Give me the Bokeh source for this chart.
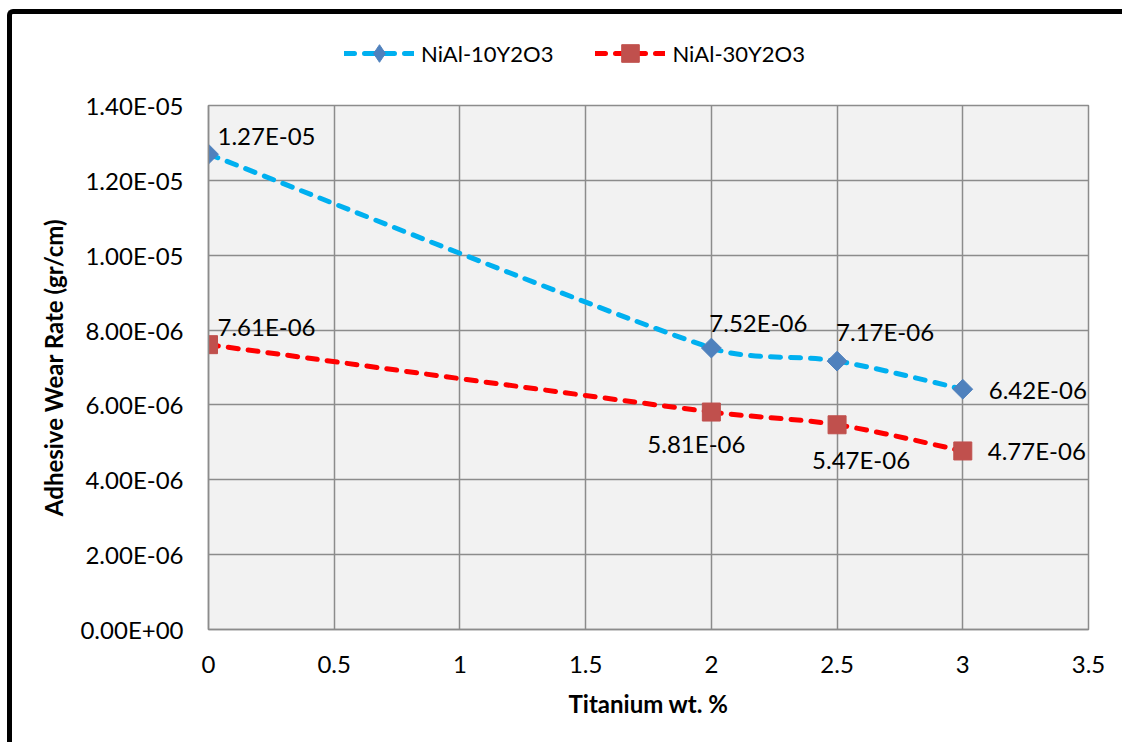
import numpy as np
from bokeh.plotting import figure
from bokeh.layouts import column
from bokeh.models import (ColumnDataSource, Range1d, FixedTicker, CustomJSTickFormatter,
                          Legend, LegendItem, LabelSet)
from bokeh.core.properties import value
from bokeh.embed import file_html
from bokeh.resources import INLINE

# ---------------- data ----------------
titanium = [0, 2, 2.5, 3]
wear_10 = [1.27e-05, 7.52e-06, 7.17e-06, 6.42e-06]
wear_30 = [7.61e-06, 5.81e-06, 5.47e-06, 4.77e-06]
series_names = ["NiAl-10Y2O3", "NiAl-30Y2O3"]
x_ticks = [0, 0.5, 1, 1.5, 2, 2.5, 3, 3.5]
y_ticks = [0, 2e-06, 4e-06, 6e-06, 8e-06, 1e-05, 1.2e-05, 1.4e-05]
x_title = "Titanium wt. %"
y_title = "Adhesive Wear Rate (gr/cm)"

# ---------------- style ----------------
FONT = "Lato"
FS = "24px"
FRAME_W, FRAME_H = 880, 524
X_MAX, Y_MAX = 3.5, 1.4e-05
BLUE_LINE, BLUE_MARK = "#00B0F0", "#4F81BD"
RED_LINE, RED_MARK = "#FF0000", "#C0504D"
GRID = "#8C8C8C"
DASH = "10 10"
LW = 5

# label offsets in pixels (left aligned text), per point
blue_dx = [9, -2, -1, 26]
blue_dy = [19, 26, 30, 0]
red_dx = [9, -64, -25, 25]
red_dy = [18, -31, -35, 0]


def smooth_segments(xs, ys):
    """Excel-like smoothed line: one cubic Bezier per segment (Catmull-Rom tangents, clamped arms)."""
    sx = FRAME_W / X_MAX
    sy = FRAME_H / Y_MAX
    P = np.column_stack([np.asarray(xs, float) * sx, np.asarray(ys, float) * sy])
    n = len(P)
    tang = [(P[min(i + 1, n - 1)] - P[max(i - 1, 0)]) / 6.0 for i in range(n)]
    out = {k: [] for k in ("x0", "y0", "x1", "y1", "cx0", "cy0", "cx1", "cy1")}
    for i in range(n - 1):
        L = np.linalg.norm(P[i + 1] - P[i])

        def clamp(t):
            l = np.linalg.norm(t)
            m = L / 3.0
            return t * (m / l) if l > m else t

        c0 = P[i] + clamp(tang[i])
        c1 = P[i + 1] - clamp(tang[i + 1])
        out["x0"].append(P[i][0] / sx); out["y0"].append(P[i][1] / sy)
        out["x1"].append(P[i + 1][0] / sx); out["y1"].append(P[i + 1][1] / sy)
        out["cx0"].append(c0[0] / sx); out["cy0"].append(c0[1] / sy)
        out["cx1"].append(c1[0] / sx); out["cy1"].append(c1[1] / sy)
    return ColumnDataSource(out)


# ================= main chart =================
p = figure(frame_width=FRAME_W, frame_height=FRAME_H,
           x_range=Range1d(0, X_MAX), y_range=Range1d(0, Y_MAX),
           output_backend="svg", toolbar_location=None,
           min_border_left=196, min_border_right=34, min_border_top=21, min_border_bottom=113)

p.background_fill_color = "#F2F2F2"
p.border_fill_color = "white"
p.outline_line_color = GRID
p.outline_line_width = 1.5

for ax in (p.xaxis[0], p.yaxis[0]):
    ax.axis_line_color = GRID
    ax.axis_line_width = 1.5
    ax.major_tick_line_color = None
    ax.minor_tick_line_color = None
    ax.major_tick_in = 0
    ax.major_tick_out = 0
    ax.minor_tick_in = 0
    ax.minor_tick_out = 0
    ax.major_label_text_font = FONT
    ax.major_label_text_font_size = FS
    ax.major_label_text_color = "black"
    ax.axis_label_text_font = FONT
    ax.axis_label_text_font_size = FS
    ax.axis_label_text_font_style = "bold"
    ax.axis_label_text_color = "black"

p.xaxis.ticker = FixedTicker(ticks=x_ticks)
p.yaxis.ticker = FixedTicker(ticks=y_ticks)
p.yaxis.formatter = CustomJSTickFormatter(code="""
    var s = tick.toExponential(2).toUpperCase();
    var parts = s.split("E");
    var e = parseInt(parts[1]);
    var a = Math.abs(e);
    return parts[0] + "E" + (e < 0 ? "-" : "+") + (a < 10 ? "0" : "") + a;
""")
p.xaxis.axis_label = x_title
p.yaxis.axis_label = y_title
p.xaxis.major_label_standoff = 26
p.yaxis.major_label_standoff = 25
p.xaxis.axis_label_standoff = 13
p.yaxis.axis_label_standoff = 9

p.xgrid.ticker = FixedTicker(ticks=x_ticks)
p.ygrid.ticker = FixedTicker(ticks=y_ticks)
for g in (p.xgrid[0], p.ygrid[0]):
    g.grid_line_color = GRID
    g.grid_line_width = 1.5

# smoothed dashed lines
p.bezier(x0="x0", y0="y0", x1="x1", y1="y1", cx0="cx0", cy0="cy0", cx1="cx1", cy1="cy1",
         source=smooth_segments(titanium, wear_10), line_color=BLUE_LINE, line_width=LW,
         line_dash=DASH, line_cap="round")
p.bezier(x0="x0", y0="y0", x1="x1", y1="y1", cx0="cx0", cy0="cy0", cx1="cx1", cy1="cy1",
         source=smooth_segments(titanium, wear_30), line_color=RED_LINE, line_width=LW,
         line_dash=DASH, line_cap="round")

p.scatter(titanium, wear_10, marker="square", angle=np.pi / 4, size=14,
          fill_color=BLUE_MARK, line_color=BLUE_MARK)
p.scatter(titanium, wear_30, marker="square", size=18,
          fill_color=RED_MARK, line_color=RED_MARK)

# data labels
for xs, ys, dx, dy in ((titanium, wear_10, blue_dx, blue_dy), (titanium, wear_30, red_dx, red_dy)):
    src = ColumnDataSource(dict(x=xs, y=ys, t=[f"{v:.2E}" for v in ys], dx=dx, dy=dy))
    p.add_layout(LabelSet(x="x", y="y", text="t", x_offset="dx", y_offset="dy", source=src,
                          text_font=value(FONT), text_font_size=value(FS), text_color="black",
                          text_align="left", text_baseline="middle"))

# ================= legend strip above the chart =================
# the series are drawn again here only so the legend can show their glyphs;
# the y range lies above all values, so these copies stay out of view.
leg = figure(frame_width=196 + FRAME_W + 34, frame_height=70,
             x_range=Range1d(0, X_MAX), y_range=Range1d(1, 2),
             x_axis_type=None, y_axis_type=None, output_backend="svg", toolbar_location=None,
             min_border=0)
leg.outline_line_color = None
leg.background_fill_color = "white"
leg.border_fill_color = "white"

lg_blue_line = leg.line(titanium, wear_10, line_color=BLUE_LINE, line_width=LW, line_dash=DASH,
                        line_cap="round")
lg_blue_mark = leg.scatter(titanium, wear_10, marker="diamond", fill_color=BLUE_MARK,
                           line_color=BLUE_MARK)
lg_red_line = leg.line(titanium, wear_30, line_color=RED_LINE, line_width=LW, line_dash=DASH,
                       line_cap="round")
lg_red_mark = leg.scatter(titanium, wear_30, marker="square", fill_color=RED_MARK,
                          line_color=RED_MARK)

legend = Legend(items=[LegendItem(label=series_names[0], renderers=[lg_blue_line, lg_blue_mark]),
                       LegendItem(label=series_names[1], renderers=[lg_red_line, lg_red_mark])],
                orientation="horizontal", location=(332, 9), glyph_width=70, glyph_height=44,
                label_standoff=7, spacing=42, padding=0, margin=0,
                border_line_color=None, background_fill_alpha=0,
                label_text_font=FONT, label_text_font_size="22px", label_text_color="black")
leg.add_layout(legend)

page = column(leg, p, spacing=0,
              styles={"border-left": "5px solid black", "border-top": "5px solid black",
                      "border-top-left-radius": "6px", "margin-left": "7px", "margin-top": "9px"})

open("out.html", "w").write(file_html(page, INLINE))
